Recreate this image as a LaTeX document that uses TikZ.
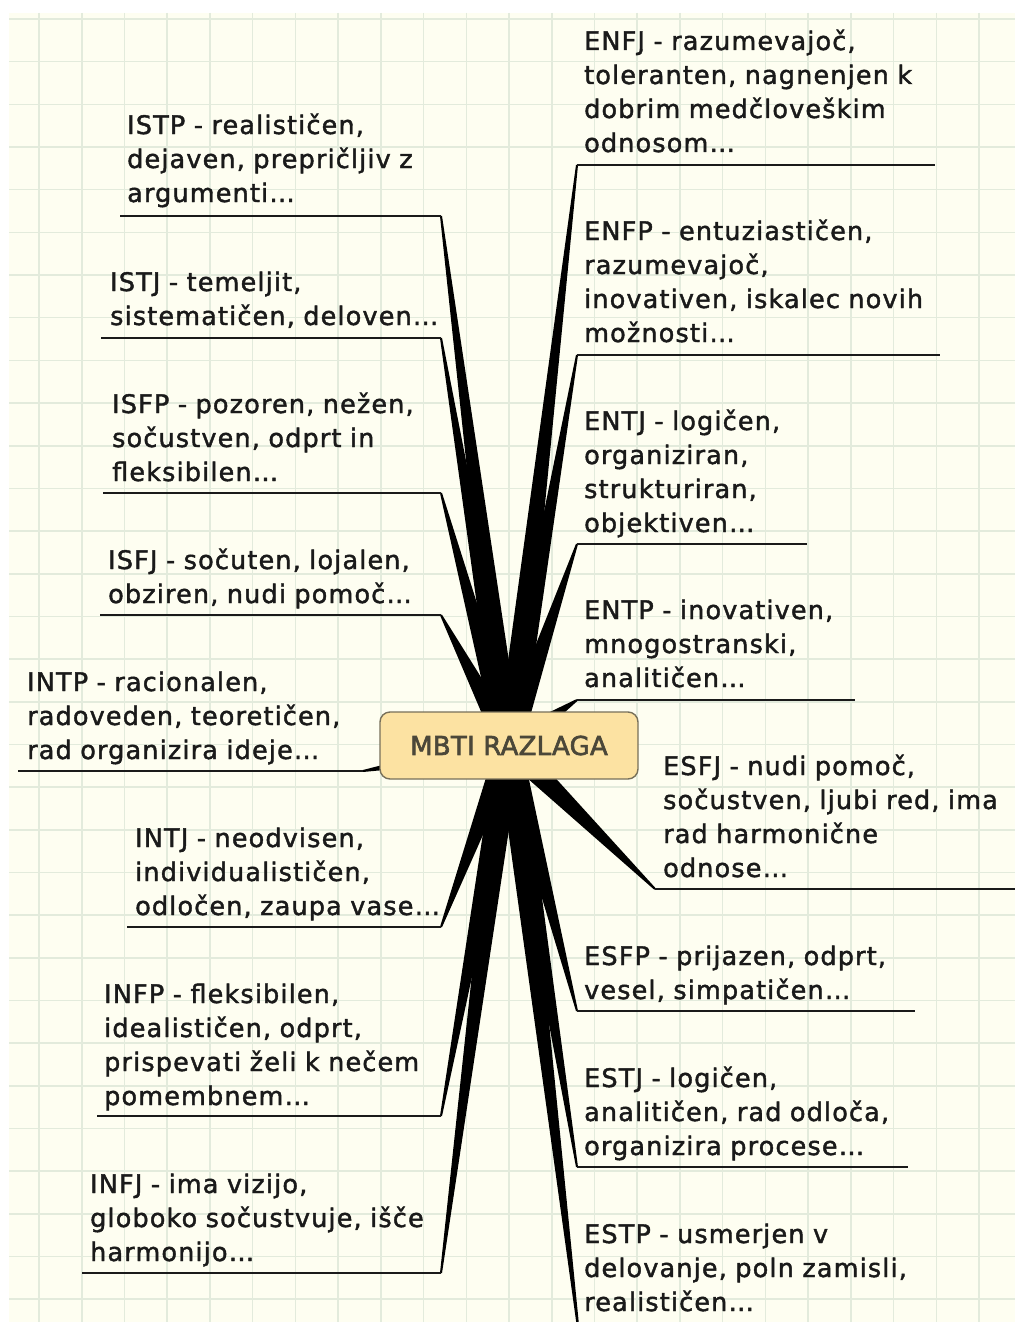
\documentclass[tikz,border=0pt]{standalone}
\usepackage{fontspec}
\setmainfont{DejaVu Sans}[LetterSpace=4.5, FakeBold=1.6]
\newfontfamily\hubfont{DejaVu Sans}[LetterSpace=1, FakeBold=2.4]
\usetikzlibrary{calc}

\definecolor{paper}{HTML}{FEFEF1}
\definecolor{gridline}{HTML}{E3EBDC}
\definecolor{ink}{HTML}{1A1A1A}
\definecolor{hubfill}{HTML}{FCE2A2}
\definecolor{hubdraw}{HTML}{77705A}
\definecolor{hubtext}{HTML}{4B4739}

\tikzset{
  note/.style={anchor=base west, inner sep=0pt, text width=440pt, align=left,
    text=ink, font=\fontsize{25.5}{34}\selectfont},
  rule/.style={draw=ink, line width=1.6pt},
  hub/.style={draw=hubdraw, line width=1.4pt, fill=hubfill, rounded corners=10pt,
    minimum width=258pt, minimum height=67pt, inner sep=0pt, text=hubtext,
    font=\hubfont\fontsize{26}{30}\selectfont}
}

% tapered branch: thin at the first point, wide at the hub
\newcommand\branchwedge[2]{%
  \fill[black] ($(#1)!1pt!90:(#2)$) -- ($(#2)!12.5pt!-90:(#1)$)
    -- ($(#2)!12.5pt!90:(#1)$) -- ($(#1)!1pt!-90:(#2)$) -- cycle;}

\begin{document}
\begin{tikzpicture}[x=1pt,y=-1pt]
\useasboundingbox (0,0) rectangle (1015,1322);
\fill[white] (0,0) rectangle (1015,1322);
\fill[paper] (9,13) rectangle (1015,1322);

% squared paper
\foreach \k in {0,...,22}
  \draw[gridline, line width=1.6pt] ({39+42.73*\k},13) -- ({39+42.73*\k},1322);
\foreach \k in {0,...,30}
  \draw[gridline, line width=1.6pt] (9,{19+42.67*\k}) -- (1015,{19+42.67*\k});

\coordinate (hubc) at (509,745.5);

% underline end points
\coordinate (istp-l) at (120,216);  \coordinate (istp-r) at (441,216);
\coordinate (istj-l) at (101,338);  \coordinate (istj-r) at (441,338);
\coordinate (isfp-l) at (103,493);  \coordinate (isfp-r) at (441,493);
\coordinate (isfj-l) at (100,615);  \coordinate (isfj-r) at (441,615);
\coordinate (intp-l) at (18,771);   \coordinate (intp-r) at (363,771);
\coordinate (intj-l) at (127,927);  \coordinate (intj-r) at (441,927);
\coordinate (infp-l) at (97,1116);  \coordinate (infp-r) at (441,1116);
\coordinate (infj-l) at (82,1273);  \coordinate (infj-r) at (441,1273);
\coordinate (enfj-l) at (577,165);  \coordinate (enfj-r) at (935,165);
\coordinate (enfp-l) at (577,355);  \coordinate (enfp-r) at (940,355);
\coordinate (entj-l) at (577,544);  \coordinate (entj-r) at (807,544);
\coordinate (entp-l) at (577,700);  \coordinate (entp-r) at (855,700);
\coordinate (esfj-l) at (655,889);  \coordinate (esfj-r) at (1015,889);
\coordinate (esfp-l) at (577,1011); \coordinate (esfp-r) at (915,1011);
\coordinate (estj-l) at (577,1167); \coordinate (estj-r) at (908,1167);
\coordinate (estp-l) at (579,1335); \coordinate (estp-r) at (930,1335);

% branches
\foreach \t in {istp,istj,isfp,isfj,intj,infp,infj}
  \branchwedge{\t-r}{hubc};
\branchwedge{intp-r}{hubc}
\foreach \t in {enfj,enfp,entj,entp,esfj,esfp,estj,estp}
  \branchwedge{\t-l}{hubc};

\foreach \t in {istp,istj,isfp,isfj,intp,intj,infp,infj,enfj,enfp,entj,entp,esfj,esfp,estj,estp}
  \draw[rule] (\t-l) -- (\t-r);

% central topic
\node[hub] (hub) at (hubc) {MBTI RAZLAGA};

% left side
\node[note] (istp) at (127,134) {ISTP - realističen,\\dejaven, prepričljiv z\\argumenti…};
\node[note] (istj) at (110,291) {ISTJ - temeljit,\\sistematičen, deloven…};
\node[note] (isfp) at (112,413) {ISFP - pozoren, nežen,\\sočustven, odprt in\\fleksibilen…};
\node[note] (isfj) at (108,569) {ISFJ - sočuten, lojalen,\\obziren, nudi pomoč…};
\node[note] (intp) at (27,691) {INTP - racionalen,\\radoveden, teoretičen,\\rad organizira ideje…};
\node[note] (intj) at (135,847) {INTJ - neodvisen,\\individualističen,\\odločen, zaupa vase…};
\node[note] (infp) at (104,1003) {INFP - fleksibilen,\\idealističen, odprt,\\prispevati želi k nečem\\pomembnem…};
\node[note] (infj) at (90,1193) {INFJ - ima vizijo,\\globoko sočustvuje, išče\\harmonijo…};

% right side
\node[note] (enfj) at (584,50) {ENFJ - razumevajoč,\\toleranten, nagnenjen k\\dobrim medčloveškim\\odnosom…};
\node[note] (enfp) at (584,240) {ENFP - entuziastičen,\\razumevajoč,\\inovativen, iskalec novih\\možnosti…};
\node[note] (entj) at (584,430) {ENTJ - logičen,\\organiziran,\\strukturiran,\\objektiven…};
\node[note] (entp) at (584,619) {ENTP - inovativen,\\mnogostranski,\\analitičen…};
\node[note] (esfj) at (663,775) {ESFJ - nudi pomoč,\\sočustven, ljubi red, ima\\rad harmonične\\odnose…};
\node[note] (esfp) at (584,965) {ESFP - prijazen, odprt,\\vesel, simpatičen…};
\node[note] (estj) at (584,1087) {ESTJ - logičen,\\analitičen, rad odloča,\\organizira procese…};
\node[note] (estp) at (584,1243) {ESTP - usmerjen v\\delovanje, poln zamisli,\\realističen…};
\end{tikzpicture}
\end{document}
